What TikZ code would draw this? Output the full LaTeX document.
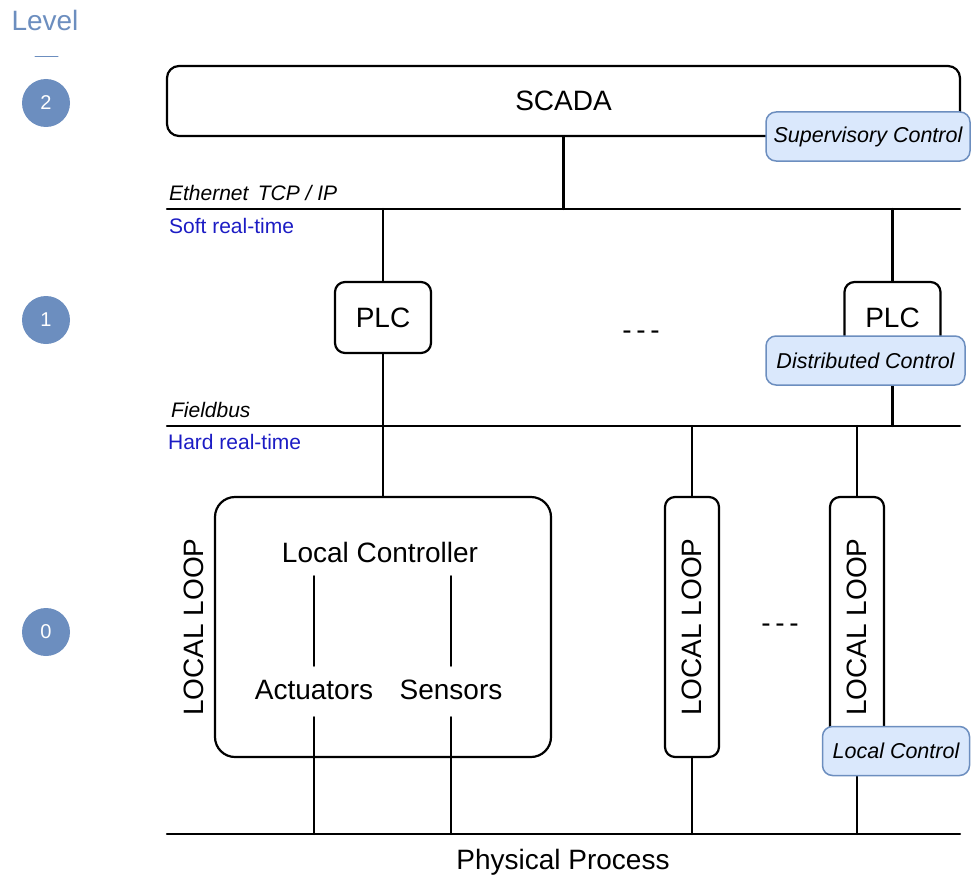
\documentclass[tikz,border=0pt]{standalone}
\usepackage{fontspec}
\setmainfont{Liberation Sans}
\usetikzlibrary{positioning}
\definecolor{lvlblue}{HTML}{6C8EBF}
\definecolor{notefill}{HTML}{DAE8FC}
\definecolor{rtblue}{HTML}{1C1CC4}
\begin{document}
\begin{tikzpicture}[x=1pt, y=-1pt, line width=2.2, line cap=round, line join=round,
    big/.style={font=\fontsize{28}{32}\selectfont},
    small/.style={font=\fontsize{21}{24}\selectfont},
    box/.style={draw, big, rounded corners=10pt, inner sep=0pt},
    lbl/.style={big, inner sep=0pt, text height=20pt, text depth=0pt},
    note/.style={draw=lvlblue, fill=notefill, rounded corners=10pt, line width=1.5,
      font=\fontsize{21.5}{24}\selectfont\itshape, inner sep=0pt, minimum height=49pt},
    lvl/.style={circle, fill=lvlblue, text=white, minimum size=48pt, inner sep=0pt,
      font=\fontsize{20}{24}\selectfont},
    buslabel/.style={small, anchor=base west, inner sep=0pt, font=\fontsize{21}{24}\selectfont\itshape},
    rtlabel/.style={small, anchor=base west, inner sep=0pt, text=rtblue}]
  \useasboundingbox (0,0) rectangle (971,880);
  % levels
  \node[big, text=lvlblue] (level) at (45,20) {Level};
  \draw[lvlblue, line width=1] (35,57) -- (58,57);
  \node[lvl] (lvl2) at (46,103) {2};
  \node[lvl] (lvl1) at (46,320) {1};
  \node[lvl] (lvl0) at (46,632) {0};
  % buses
  \coordinate (eth) at (167,209);
  \coordinate (eth end) at (960,209);
  \coordinate (field) at (167,426);
  \coordinate (field end) at (960,426);
  \coordinate (proc) at (167,834);
  \coordinate (proc end) at (960,834);
  \draw (eth) -- (eth end);
  \draw (field) -- (field end);
  \draw (proc) -- (proc end);
  \node[buslabel] (ethlbl) at (168,200) {Ethernet\, TCP / IP};
  \node[rtlabel] (softrt) at (168,233) {Soft real-time};
  \node[buslabel] (fieldlbl) at (170,417) {Fieldbus};
  \node[rtlabel] (hardrt) at (167,449) {Hard real-time};
  \node[big] (process) at (563,862) {Physical Process};
  % level 2
  \node[box, rounded corners=12pt, minimum width=793pt, minimum height=70pt] (scada) at (563.5,101) {SCADA};
  \draw (scada.south) -- (scada.south |- eth);
  % level 1
  \node[box, minimum width=96pt, minimum height=71pt] (plc1) at (383,317.5) {PLC};
  \node[box, minimum width=96pt, minimum height=71pt] (plc2) at (892.5,317.5) {PLC};
  \node[big] (dots1) at (641,335) {-\,-\,-};
  \draw (plc1.north |- eth) -- (plc1.north);
  \draw (plc2.north |- eth) -- (plc2.north);
  \draw (plc2.south) -- (plc2.south |- field);
  % level 0
  \node[box, rounded corners=20pt, minimum width=336pt, minimum height=260pt] (lc) at (383,627) {};
  \draw (plc1.south) -- (lc.north);
  \node[lbl] (lctitle) at (380,552) {Local Controller};
  \node[lbl] (act) at (314,689) {Actuators};
  \node[lbl] (sen) at (451,689) {Sensors};
  \draw[shorten <=13pt, shorten >=12pt] (lctitle.south -| act) -- (act.north);
  \draw[shorten <=13pt, shorten >=12pt] (lctitle.south -| sen) -- (sen.north);
  \draw[shorten <=17pt] (act.south) -- (act.south |- proc);
  \draw[shorten <=17pt] (sen.south) -- (sen.south |- proc);
  \node[lbl, rotate=90] (looplbl) at (193,627) {LOCAL LOOP};
  \node[box, rotate=90, minimum width=260pt, minimum height=54pt] (loop2) at (692,627) {LOCAL LOOP};
  \node[box, rotate=90, minimum width=260pt, minimum height=54pt] (loop3) at (857,627) {LOCAL LOOP};
  \node[big] (dots0) at (780,628) {-\,-\,-};
  \draw (loop2.east |- field) -- (loop2.east);
  \draw (loop2.west) -- (loop2.west |- proc);
  \draw (loop3.east |- field) -- (loop3.east);
  \draw (loop3.west) -- (loop3.west |- proc);
  % notes
  \node[note, minimum width=204pt] (supnote) at (868,136.5) {Supervisory Control};
  \node[note, minimum width=199pt] (distnote) at (865.5,360.5) {Distributed Control};
  \node[note, minimum width=147pt] (locnote) at (896,751) {Local Control};
\end{tikzpicture}
\end{document}
